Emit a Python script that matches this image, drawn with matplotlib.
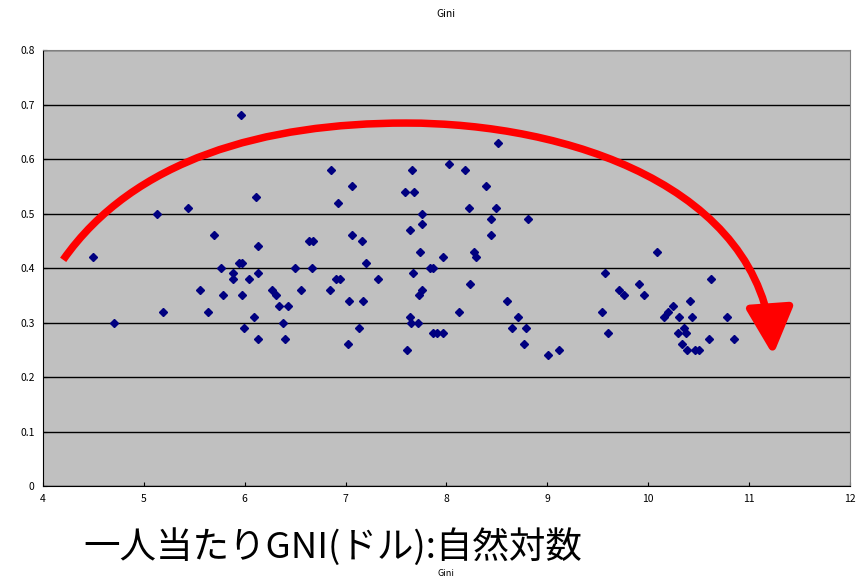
import matplotlib.pyplot as plt
from matplotlib.patches import FancyArrowPatch
from matplotlib.path import Path

plt.rcParams['font.family'] = ['Noto Sans CJK JP', 'DejaVu Sans']

# log GNI per capita (x) and Gini (y)
gni_log = [4.50, 4.70, 5.13, 5.19, 5.44, 5.56, 5.64, 5.70, 5.77, 5.79,
           5.88, 5.88, 5.94, 5.97, 5.96, 5.97, 5.99, 6.04, 6.09, 6.11,
           6.13, 6.13, 6.13, 6.27, 6.31, 6.34, 6.43, 6.38, 6.40, 6.50,
           6.56, 6.64, 6.68, 6.67, 6.86, 7.06, 6.93, 7.06, 7.16, 7.20,
           6.91, 6.95, 7.32, 6.85, 7.03, 7.17, 7.13, 7.02, 7.66, 7.59,
           7.68, 8.03, 8.19, 8.51, 8.39, 8.22, 8.49, 7.76, 8.44, 8.81,
           7.76, 7.64, 8.44, 7.74, 8.27, 8.29, 7.97, 7.84, 7.87, 7.67,
           8.23, 7.76, 7.73, 8.60, 8.13, 7.64, 7.65, 7.72, 8.71, 8.65,
           8.79, 7.87, 7.91, 7.97, 8.77, 7.61, 9.01, 9.12, 10.09, 9.57,
           10.62, 9.91, 9.71, 9.76, 9.96, 10.42, 9.54, 10.25, 10.20, 10.16,
           10.31, 10.44, 10.78, 10.36, 9.60, 10.30, 10.38, 10.60, 10.85, 10.34,
           10.39, 10.47, 10.51]
gini = [0.42, 0.30, 0.50, 0.32, 0.51, 0.36, 0.32, 0.46, 0.40, 0.35,
        0.39, 0.38, 0.41, 0.41, 0.68, 0.35, 0.29, 0.38, 0.31, 0.53,
        0.44, 0.39, 0.27, 0.36, 0.35, 0.33, 0.33, 0.30, 0.27, 0.40,
        0.36, 0.45, 0.45, 0.40, 0.58, 0.55, 0.52, 0.46, 0.45, 0.41,
        0.38, 0.38, 0.38, 0.36, 0.34, 0.34, 0.29, 0.26, 0.58, 0.54,
        0.54, 0.59, 0.58, 0.63, 0.55, 0.51, 0.51, 0.50, 0.49, 0.49,
        0.48, 0.47, 0.46, 0.43, 0.43, 0.42, 0.42, 0.40, 0.40, 0.39,
        0.37, 0.36, 0.35, 0.34, 0.32, 0.31, 0.30, 0.30, 0.31, 0.29,
        0.29, 0.28, 0.28, 0.28, 0.26, 0.25, 0.24, 0.25, 0.43, 0.39,
        0.38, 0.37, 0.36, 0.35, 0.35, 0.34, 0.32, 0.33, 0.32, 0.31,
        0.31, 0.31, 0.31, 0.29, 0.28, 0.28, 0.28, 0.27, 0.27, 0.26,
        0.25, 0.25, 0.25]

x_ticks = [4, 5, 6, 7, 8, 9, 10, 11, 12]
y_ticks = [0, 0.1, 0.2, 0.3, 0.4, 0.5, 0.6, 0.7, 0.8]

fig = plt.figure(figsize=(8.6, 5.79), dpi=100)
ax = fig.add_axes([0.05, 0.1606, 0.938, 0.753])
ax.set_facecolor('#c0c0c0')

ax.plot(gni_log, gini, 'D', color='#000080', markersize=4, zorder=3)

ax.set_xlim(4, 12)
ax.set_ylim(0, 0.8)
ax.set_xticks(x_ticks)
ax.set_yticks(y_ticks)
ax.set_yticklabels(['0', '0.1', '0.2', '0.3', '0.4', '0.5', '0.6', '0.7', '0.8'])
ax.tick_params(direction='in', length=3, labelsize=7.5, pad=6)
ax.grid(axis='y', color='black', linewidth=1)
ax.set_axisbelow(True)
for s in ax.spines.values():
    s.set_color('#808080')
ax.spines['left'].set_color('black')
ax.spines['bottom'].set_color('black')

ax.set_title('Gini', fontsize=7.5, pad=24)
ax.set_xlabel('Gini', fontsize=6.5, labelpad=46.5, zorder=5)

# big red arc arrow (annotation)
verts = [(4.2, 0.415), (4.9, 0.60), (6.2, 0.666), (7.6, 0.666),
         (9.2, 0.666), (11.12, 0.55), (11.24, 0.24)]
codes = [Path.MOVETO, Path.CURVE4, Path.CURVE4, Path.CURVE4,
         Path.CURVE4, Path.CURVE4, Path.CURVE4]
arrow = FancyArrowPatch(path=Path(verts, codes),
                        arrowstyle='-|>,head_length=0.4,head_width=0.2',
                        mutation_scale=72, color='red', lw=5.4,
                        shrinkA=0, shrinkB=0, capstyle='butt', zorder=4)
ax.add_patch(arrow)

fig.text(0.387, 0.037, '一人当たりGNI(ドル):自然対数', fontsize=26.3,
         ha='center', va='baseline')

fig.savefig('out.png', dpi=100)
